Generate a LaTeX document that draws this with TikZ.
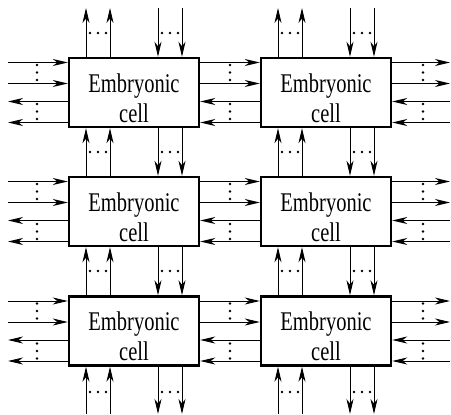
\documentclass[tikz,border=0pt]{standalone}
\usepackage{fontspec}
\setmainfont{Liberation Serif}[FakeStretch=0.76]
\usetikzlibrary{arrows.meta}

\tikzset{
  cell/.style={draw, line width=2.4pt, minimum width=130pt, minimum height=69pt,
    inner sep=0pt, align=center, font=\rmfamily\fontsize{27}{30}\selectfont},
  link/.style={-{Stealth[length=15pt,width=7pt,inset=4.5pt]}, line width=1pt},
}
% first line gets a strut so the text sits a bit low in the box
\newcommand\celltext{\rule{0pt}{30pt}Embryonic\\cell}

\begin{document}
\begin{tikzpicture}[x=1pt,y=-1pt]
      \useasboundingbox (0,0) rectangle (451,415);
      % the six cells
      \node[cell] (c11) at (134,92.5) {\celltext};
      \node[cell] (c12) at (326,92.5) {\celltext};
      \node[cell] (c21) at (134,211.5) {\celltext};
      \node[cell] (c22) at (326,211.5) {\celltext};
      \node[cell] (c31) at (134,331) {\celltext};
      \node[cell] (c32) at (326,331) {\celltext};
      % free ends on the border
      \coordinate (n1) at (134,8);
      \coordinate (n2) at (326,8);
      \coordinate (s1) at (134,414);
      \coordinate (s2) at (326,414);
      \coordinate (w1) at (8,92.5);
      \coordinate (w2) at (8,211.5);
      \coordinate (w3) at (8,331);
      \coordinate (e1) at (450,92.5);
      \coordinate (e2) at (450,211.5);
      \coordinate (e3) at (450,331);
      \begin{scope}[link]
        % rows
        \foreach \r in {1,2,3} {
          \foreach \d in {30,9} {
            \draw ([yshift=\d pt]w\r) -- ([yshift=\d pt]c\r1.west);
            \draw ([yshift=\d pt]c\r1.east) -- ([yshift=\d pt]c\r2.west);
            \draw ([yshift=\d pt]c\r2.east) -- ([yshift=\d pt]e\r);
          }
          \foreach \d in {-9,-30} {
            \draw ([yshift=\d pt]c\r1.west) -- ([yshift=\d pt]w\r);
            \draw ([yshift=\d pt]c\r2.west) -- ([yshift=\d pt]c\r1.east);
            \draw ([yshift=\d pt]e\r) -- ([yshift=\d pt]c\r2.east);
          }
        }
        % columns
        \foreach \c in {1,2} {
          \foreach \d in {-48,-24} {
            \draw ([xshift=\d pt]c1\c.north) -- ([xshift=\d pt]n\c);
            \draw ([xshift=\d pt]c2\c.north) -- ([xshift=\d pt]c1\c.south);
            \draw ([xshift=\d pt]c3\c.north) -- ([xshift=\d pt]c2\c.south);
            \draw ([xshift=\d pt]s\c) -- ([xshift=\d pt]c3\c.south);
          }
          \foreach \d in {24,48} {
            \draw ([xshift=\d pt]n\c) -- ([xshift=\d pt]c1\c.north);
            \draw ([xshift=\d pt]c1\c.south) -- ([xshift=\d pt]c2\c.north);
            \draw ([xshift=\d pt]c2\c.south) -- ([xshift=\d pt]c3\c.north);
            \draw ([xshift=\d pt]c3\c.south) -- ([xshift=\d pt]s\c);
          }
        }
      \end{scope}
      % dots between the arrow pairs
      \foreach \y in {33,152,271,392}
        \foreach \x in {98,170,290,362}
          \foreach \k in {-8,0,8}
            \fill (\x+\k,\y) circle (1.4pt);
      \foreach \x in {37,230,423}
        \foreach \y in {72.5,111.5,191.5,231.5,311,351}
          \foreach \k in {-7.5,0,7.5}
            \fill (\x,\y+\k) circle (1.4pt);
    \end{tikzpicture}
\end{document}
